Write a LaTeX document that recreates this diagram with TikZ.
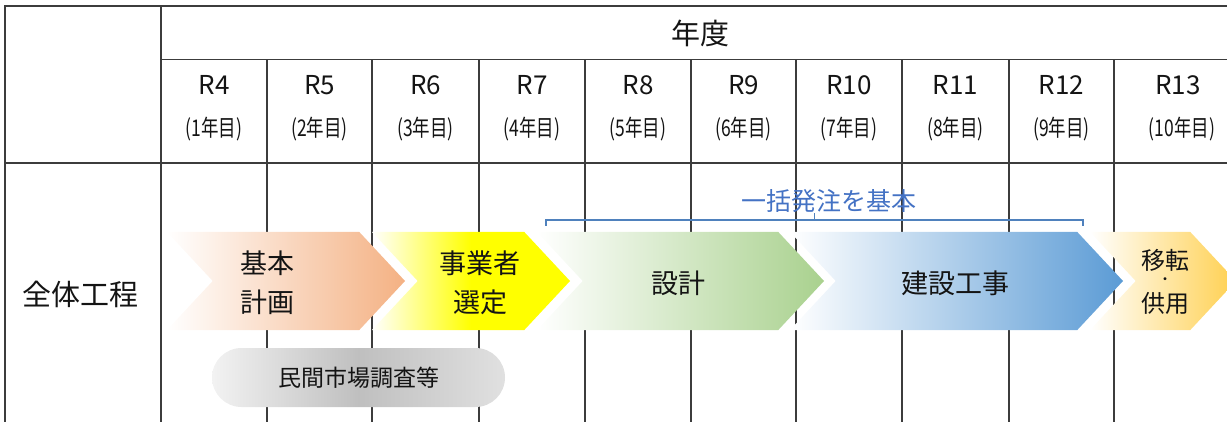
\documentclass[tikz,border=0pt]{standalone}
\usepackage{fontspec}
\setmainfont{Noto Sans CJK JP}
\newfontfamily\narrowjp[FakeStretch=0.76]{Noto Sans CJK JP}
\usetikzlibrary{shapes.symbols,shapes.misc,positioning}
\definecolor{gridline}{RGB}{60,60,60}
\definecolor{color1}{RGB}{244,177,131}
\definecolor{color2}{RGB}{255,255,0}
\definecolor{color3}{RGB}{169,209,142}
\definecolor{color4}{RGB}{91,155,213}
\definecolor{color5}{RGB}{255,208,80}
\definecolor{bracecolor}{RGB}{79,129,189}
\definecolor{notecolor}{RGB}{68,114,196}
\definecolor{textcolor}{RGB}{20,20,20}

\tikzset{
  tableline/.style  = {draw=gridline, line width=1.2pt},
  yearhead/.style   = {text=textcolor, font=\fontsize{29pt}{29pt}\selectfont},
  erahead/.style    = {text=textcolor, font=\fontsize{26pt}{26pt}\selectfont},
  countlabel/.style = {text=textcolor, font=\narrowjp\fontsize{23pt}{23pt}\selectfont},
  rowhead/.style    = {text=textcolor, font=\fontsize{29pt}{29pt}\selectfont},
  stepshape/.style  = {shape=signal, signal to=east, signal from=west,
                       signal pointer angle=94, inner sep=0pt, outer sep=0pt,
                       minimum height=98pt},
  steplabel/.style  = {text=textcolor, align=center,
                       font=\fontsize{27pt}{39pt}\selectfont},
  movelabel/.style  = {text=textcolor, inner sep=0pt,
                       font=\fontsize{24pt}{24pt}\selectfont},
  pill/.style       = {shape=rounded rectangle, inner sep=0pt,
                       minimum width=293pt, minimum height=59pt,
                       left color=black!5, right color=black!12, middle color=black!25,
                       text=textcolor, font=\fontsize{23pt}{23pt}\selectfont},
  notetext/.style   = {text=notecolor, font=\fontsize{25pt}{25pt}\selectfont},
  bracketline/.style = {draw=bracecolor, line width=1.1pt}
}

\begin{document}
\begin{tikzpicture}[x=1pt,y=-1pt]
\useasboundingbox (0,0) rectangle (1227,422);

% table frame
\draw[tableline] (5,422) -- (5,6) -- (1227,6);
\draw[tableline] (161,6) -- (161,422);
\draw[tableline] (161,59.5) -- (1227,59.5);
\draw[tableline] (5,163) -- (1227,163);

% column lines
\draw[tableline] (267,59.5) -- (267,422);
\draw[tableline] (372,59.5) -- (372,422);
\draw[tableline] (479,59.5) -- (479,422);
\draw[tableline] (585,59.5) -- (585,422);
\draw[tableline] (691,59.5) -- (691,422);
\draw[tableline] (796,59.5) -- (796,422);
\draw[tableline] (902,59.5) -- (902,422);
\draw[tableline] (1009,59.5) -- (1009,422);
\draw[tableline] (1114,59.5) -- (1114,422);

% header
\node[yearhead] (nendo) at (700,33) {年度};

\node[erahead] (r4)  at (214,85)    {R4};
\node[erahead] (r5)  at (319.5,85)  {R5};
\node[erahead] (r6)  at (425.5,85)  {R6};
\node[erahead] (r7)  at (532,85)    {R7};
\node[erahead] (r8)  at (638,85)    {R8};
\node[erahead] (r9)  at (743.5,85)  {R9};
\node[erahead] (r10) at (849,85)    {R10};
\node[erahead] (r11) at (955.5,85)  {R11};
\node[erahead] (r12) at (1061.5,85) {R12};
\node[erahead] (r13) at (1178,85)   {R13};

\node[countlabel] (y1)  at (214,129)    {(1年目)};
\node[countlabel] (y2)  at (319.5,129)  {(2年目)};
\node[countlabel] (y3)  at (425.5,129)  {(3年目)};
\node[countlabel] (y4)  at (532,129)    {(4年目)};
\node[countlabel] (y5)  at (638,129)    {(5年目)};
\node[countlabel] (y6)  at (743.5,129)  {(6年目)};
\node[countlabel] (y7)  at (849,129)    {(7年目)};
\node[countlabel] (y8)  at (955.5,129)  {(8年目)};
\node[countlabel] (y9)  at (1061.5,129) {(9年目)};
\node[countlabel] (y10) at (1182,129)   {(10年目)};

% row
\node[rowhead] (zentai) at (81,294) {全体工程};

% step 1
\node[stepshape, left color=white, right color=color1, minimum width=238pt] (plan) at (286,281) {};
\node[steplabel] (plantext) at (267,282.5) {基本\\計画};

% step 2
\node[stepshape, left color=white, right color=color2, middle color=color2, minimum width=198pt] (select) at (471,281) {};
\node[steplabel] (selecttext) at (480,282.5) {事業者\\選定};

% step 3
\node[stepshape, left color=white, right color=color3, minimum width=287pt] (design) at (680.5,281) {};
\node[steplabel] (designtext) at (678,283) {設計};

% step 4
\node[stepshape, left color=white, right color=color4, minimum width=333pt] (build) at (956.5,281) {};
\node[steplabel] (buildtext) at (955,283) {建設工事};

% step 5
\node[stepshape, left color=white, right color=color5, minimum width=146pt] (move) at (1163,281) {};
\node[movelabel] (movetop) at (1165,260) {移転};
\node[movelabel, font=\fontsize{14pt}{14pt}\selectfont] (movedot) at (1165,281.5) {・};
\node[movelabel] (movebottom) at (1165,303) {供用};

% bracket
\node[notetext] (ikkatsu) at (829,201) {一括発注を基本};
\coordinate (brL) at (546,226);
\coordinate (brM) at (814.5,213);
\coordinate (brR) at (1083,226);
\draw[bracketline] (brL) |- (brM |- 0,220) -- (brM);
\draw[bracketline] (brM |- 0,220) -| (brR);

% survey
\node[pill] (survey) at (358.5,377.5) {民間市場調査等};

\end{tikzpicture}
\end{document}
